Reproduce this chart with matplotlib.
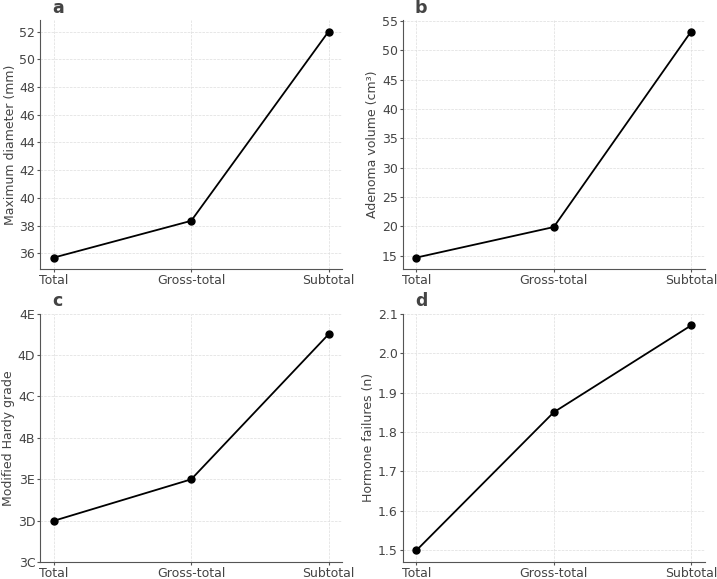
import matplotlib
matplotlib.use('Agg')
import matplotlib.pyplot as plt

# Categories of resection
groups = ['Total', 'Gross-total', 'Subtotal']

# Values
max_diameter = [35.7, 38.35, 52.0]
adenoma_volume = [14.7, 19.9, 53.2]
hardy_grade = [1.0, 2.0, 5.5]  # positions on the Hardy scale below
hormone_failures = [1.5, 1.85, 2.07]

hardy_labels = ['3C', '3D', '3E', '4B', '4C', '4D', '4E']

text_col = '#444444'
plt.rcParams['font.family'] = 'DejaVu Sans'
plt.rcParams['font.size'] = 9

DPI = 100
fig, axes = plt.subplots(2, 2, figsize=(717 / DPI, 579 / DPI), dpi=DPI)
fig.subplots_adjust(left=0.056, right=0.983, top=0.965, bottom=0.029,
                    wspace=0.2, hspace=0.18)

panels = [
    (axes[0, 0], max_diameter, 'Maximum diameter (mm)', 'a'),
    (axes[0, 1], adenoma_volume, 'Adenoma volume (cm³)', 'b'),
    (axes[1, 0], hardy_grade, 'Modified Hardy grade', 'c'),
    (axes[1, 1], hormone_failures, 'Hormone failures (n)', 'd'),
]

for ax, vals, ylab, letter in panels:
    ax.plot(groups, vals, color='black', marker='o', markersize=5, linewidth=1.3)
    ax.set_ylabel(ylab, color=text_col, fontsize=9, labelpad=2)
    ax.grid(True, linestyle='--', linewidth=0.5, color='#dddddd')
    ax.set_axisbelow(True)
    for s in ['top', 'right']:
        ax.spines[s].set_visible(False)
    for s in ['left', 'bottom']:
        ax.spines[s].set_color('#555555')
    ax.tick_params(colors='#555555', labelcolor=text_col, labelsize=9, length=2.5, pad=1)
    ax.text(0.04, 1.015, letter, transform=ax.transAxes, fontsize=12.5,
            fontweight='bold', color=text_col, ha='left', va='bottom')

axes[0, 0].set_yticks(range(36, 53, 2))
axes[0, 1].set_yticks(range(15, 56, 5))

ax = axes[1, 0]
ax.set_ylim(0, len(hardy_labels) - 1)
ax.set_yticks(range(len(hardy_labels)))
ax.set_yticklabels(hardy_labels)

ax = axes[1, 1]
ax.set_ylim(1.47, 2.1)
ax.set_yticks([1.5, 1.6, 1.7, 1.8, 1.9, 2.0, 2.1])

fig.savefig('out.png', dpi=DPI)
